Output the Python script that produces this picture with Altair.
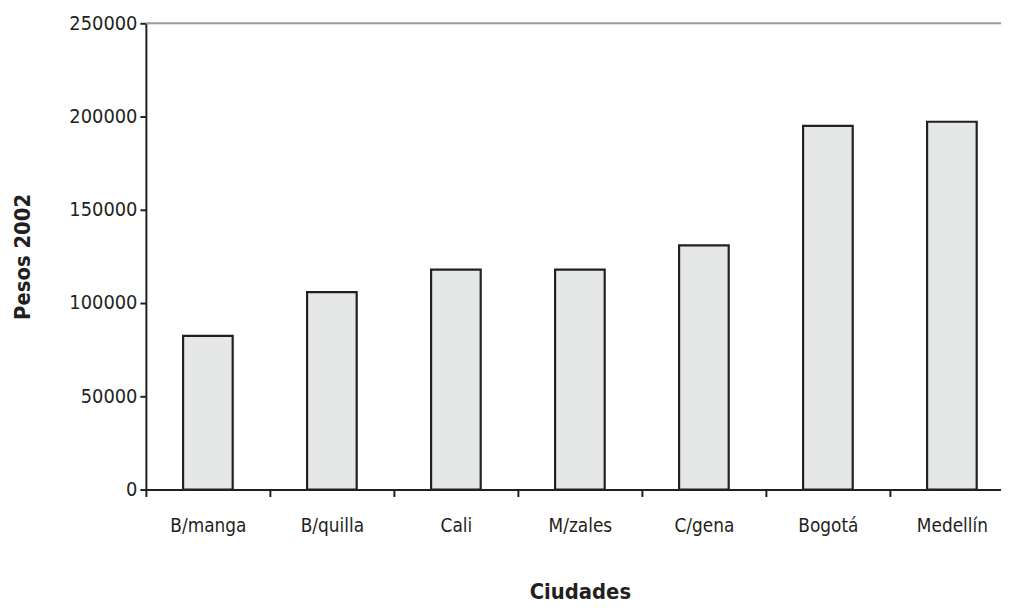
import altair as alt
import pandas as pd

ciudades = ["B/manga", "B/quilla", "Cali", "M/zales", "C/gena", "Bogotá", "Medellín"]
valores = [82400, 105900, 117900, 117900, 130900, 195000, 197200]
y_ticks = [0, 50000, 100000, 150000, 200000, 250000]

df = pd.DataFrame({"Ciudad": ciudades, "Pesos": valores})

FONT = "DejaVu Sans Condensed, Roboto, sans-serif"
INK = "#231f20"

bars = alt.Chart(df).mark_bar(
    fill="#e6e7e7", stroke=INK, strokeWidth=2.2
).encode(
    x=alt.X(
        "Ciudad:N",
        sort=ciudades,
        scale=alt.Scale(range=[0, 875], paddingInner=0.6, paddingOuter=0.3),
        axis=alt.Axis(
            title="Ciudades",
            labelAngle=0,
            tickOffset=-62.5,
            labelOffset=62.5,
            tickSize=7,
            tickWidth=2,
            tickColor=INK,
            domainColor=INK,
            domainWidth=2,
            labelPadding=20,
            labelFontSize=19,
            labelFont=FONT,
            labelColor=INK,
            titleFont=FONT,
            titleFontSize=22,
            titleFontWeight="bold",
            titleColor=INK,
            titlePadding=47,
            grid=False,
        ),
    ),
    y=alt.Y(
        "Pesos:Q",
        scale=alt.Scale(domain=[0, 250000], nice=False),
        axis=alt.Axis(
            title="Pesos 2002",
            values=y_ticks,
            format="d",
            tickSize=6,
            tickWidth=2,
            tickColor=INK,
            domainColor=INK,
            domainWidth=2,
            labelPadding=3,
            labelFontSize=20,
            labelFont=FONT,
            labelColor=INK,
            titleFont=FONT,
            titleFontSize=22,
            titleFontWeight="bold",
            titleColor=INK,
            titlePadding=35,
            grid=False,
        ),
    ),
)

top_line = alt.Chart(pd.DataFrame({"v": [250000]})).mark_rule(
    color="#9a9a9a", strokeWidth=2
).encode(y="v:Q")

chart = alt.layer(top_line, bars).properties(
    width=862,
    height=470,
    autosize=alt.AutoSizeParams(type="none"),
    padding={"left": 139, "top": 13, "right": 0, "bottom": 117},
).configure_view(stroke=None).configure(background="white")

chart.save("out.html", embed_options={"renderer": "svg", "actions": False})
